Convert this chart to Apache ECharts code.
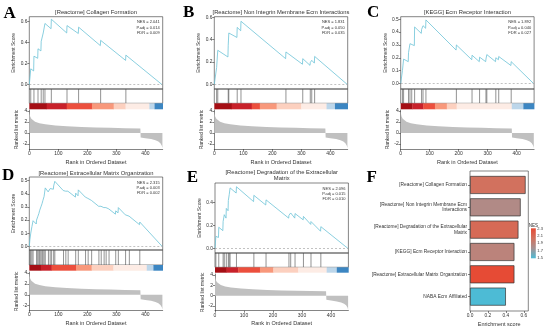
<!DOCTYPE html>
<html><head><meta charset="utf-8">
<script src="https://cdn.jsdelivr.net/npm/echarts@6/dist/echarts.min.js"></script>
<style>html,body{margin:0;padding:0;background:#fff}#c{width:550px;height:329px}</style>
</head><body><div id="c"></div>
<script>
// ---------------- DATA ----------------
const rankMax = 460;
const rankTicks = [0, 100, 200, 300, 400];
const metricTicks = [-2, 0, 2, 4];
const rankedMetric = [[0,3.9],[1,3.5],[3,3.0],[7,2.6],[12,2.3],[20,2.05],[35,1.8],[55,1.6],[90,1.4],[130,1.25],[180,1.12],[230,1.03],[280,0.96],[330,0.9],[383,0.85],[384,-0.8],[400,-0.95],[420,-1.1],[435,-1.3],[445,-1.55],[452,-1.85],[457,-2.3],[459,-2.7]];

const titleA = '[Reactome] Collagen Formation';
const statsA = ['NES = 2.041', 'P.adj = 0.014', 'FDR = 0.009'];
const esTicksA = [0, 0.2, 0.4, 0.6];
const esA = [[0,0],[5,0.15],[15,0.13],[16,0.27],[29,0.25],[30,0.34],[40,0.32],[41,0.41],[47,0.40],[48,0.49],[53,0.48],[54,0.58],[75,0.53],[76,0.62],[129,0.49],[130,0.56],[169,0.485],[170,0.545],[245,0.37],[246,0.42],[332,0.23],[333,0.28],[458,0]];
const hitsA = [5,16,30,41,48,54,76,130,170,246,333];
const colorBreaksA = [0,60,129,216,291,332,414,432,460];

const titleB = '[Reactome] Non Integrin Membrane Ecm Interactions';
const statsB = ['NES = 1.831', 'P.adj = 0.050', 'FDR = 0.035'];
const esTicksB = [0, 0.2, 0.4, 0.6];
const esB = [[0,0],[8,0.15],[11,0.14],[12,0.305],[47,0.245],[48,0.35],[49,0.345],[50,0.46],[78,0.42],[79,0.51],[91,0.48],[92,0.565],[246,0.23],[247,0.29],[304,0.18],[305,0.23],[330,0.17],[331,0.195],[335,0.185],[336,0.215],[345,0.19],[346,0.25],[458,0]];
const hitsB = [8,12,48,50,79,92,247,305,331,336,346];
const colorBreaksB = [0,60,129,157,215,300,387,416,460];

const titleC = '[KEGG] Ecm Receptor Interaction';
const statsC = ['NES = 1.892', 'P.adj = 0.040', 'FDR = 0.027'];
const esTicksC = [0, 0.1, 0.2, 0.3, 0.4, 0.5];
const esC = [[0,0],[6,0.1],[9,0.095],[10,0.19],[26,0.17],[27,0.24],[31,0.235],[32,0.31],[37,0.3],[38,0.32],[47,0.295],[48,0.44],[71,0.39],[72,0.42],[76,0.41],[77,0.45],[86,0.43],[87,0.495],[191,0.26],[192,0.30],[245,0.185],[246,0.22],[271,0.17],[272,0.205],[293,0.17],[294,0.19],[296,0.185],[297,0.225],[327,0.17],[328,0.2],[337,0.185],[338,0.21],[380,0.14],[381,0.17],[458,0]];
const hitsC = [6,10,27,32,38,48,72,77,87,192,246,272,294,297,328,338,381];
const colorBreaksC = [0,40,78,118,159,193,383,423,460];

const titleD = '[Reactome] Extracellular Matrix Organization';
const statsD = ['NES = 2.315', 'P.adj = 0.003', 'FDR = 0.002'];
const esTicksD = [0, 0.1, 0.2, 0.3, 0.4, 0.5];
const esD = [[0,0],[2,0.05],[4,0.045],[5,0.1],[8,0.095],[9,0.15],[12,0.145],[13,0.195],[24,0.17],[25,0.2],[28,0.195],[29,0.225],[32,0.22],[33,0.25],[35,0.245],[36,0.275],[39,0.27],[40,0.3],[43,0.295],[44,0.325],[46,0.32],[47,0.35],[50,0.345],[51,0.38],[54,0.375],[55,0.445],[65,0.415],[66,0.43],[71,0.415],[72,0.44],[76,0.43],[77,0.45],[83,0.435],[84,0.46],[87,0.455],[88,0.495],[117,0.425],[118,0.44],[125,0.42],[126,0.435],[133,0.42],[134,0.43],[159,0.375],[160,0.405],[168,0.385],[169,0.43],[193,0.375],[194,0.385],[202,0.365],[203,0.375],[214,0.35],[215,0.36],[239,0.305],[240,0.32],[247,0.305],[248,0.315],[257,0.295],[258,0.31],[264,0.295],[265,0.305],[274,0.285],[275,0.295],[297,0.245],[298,0.27],[306,0.255],[307,0.295],[331,0.24],[332,0.255],[344,0.23],[345,0.245],[380,0.165],[381,0.185],[458,0]];
const hitsD = [2,5,9,13,25,29,33,36,40,44,47,51,55,66,72,77,84,88,118,126,134,160,169,194,203,215,240,248,258,265,275,298,307,332,345,381];
const colorBreaksD = [0,40,77,161,215,290,405,428,460];

const titleE = '[Reactome] Degradation of the Extracellular\nMatrix';
const statsE = ['NES = 2.096', 'P.adj = 0.015', 'FDR = 0.010'];
const esTicksE = [0, 0.2, 0.4];
const esE = [[0,0],[3,0.105],[12,0.095],[13,0.185],[27,0.155],[28,0.235],[31,0.225],[32,0.295],[38,0.265],[39,0.35],[45,0.33],[46,0.42],[48,0.41],[49,0.47],[51,0.46],[52,0.53],[73,0.485],[74,0.54],[133,0.41],[134,0.465],[175,0.38],[176,0.425],[254,0.265],[255,0.29],[260,0.28],[261,0.31],[275,0.265],[276,0.305],[304,0.25],[305,0.28],[330,0.21],[331,0.235],[364,0.15],[365,0.19],[458,0]];
const hitsE = [3,13,28,32,39,46,49,52,74,134,176,255,261,276,305,331,365];
const colorBreaksE = [0,40,80,155,201,287,385,420,460];

const fCategories = ['[Reactome] Collagen Formation','[Reactome] Non Integrin Membrane Ecm\nInteractions','[Reactome] Degradation of the Extracellular\nMatrix','[KEGG] Ecm Receptor Interaction','[Reactome] Extracellular Matrix Organization','NABA Ecm Affiliated'];
const fES = [0.62, 0.565, 0.54, 0.495, 0.495, 0.40];
const fNES = [2.041, 1.831, 2.096, 1.892, 2.315, 1.48];
const fTicks = [0, 0.2, 0.4, 0.6];
const nesTicks = [1.5, 1.7, 1.9, 2.1, 2.3];
const nesRange = [1.48, 2.315];

// ---------------- STYLE / LAYOUT ----------------
const FONT = 'Liberation Sans';
const INK = '#333';
const ES_COLOR = '#6cc3d7';
const CB_PALETTE = ['#a50f15','#c8212a','#ec4f3d','#f8987b','#fcd0bf','#fdece5','#bcd6ea','#3c86c2'];
const NES_COLORS = ['#4dbbd5','#a69394','#d2725f','#e64b35'];
const PW = 133.4;
const panels = [
  {k:'A', title:titleA, stats:statsA, esTicks:esTicksA, es:esA, hits:hitsA, cb:colorBreaksA,
   L:{left:29.3, esTop:16.7, esBottom:89, cbTop:103.3, cbBottom:109.3, rkTop:110, rkBottom:149, esMin:-0.041, esMax:0.644, letter:[3.5,13.7], titleY:12.5}},
  {k:'B', title:titleB, stats:statsB, esTicks:esTicksB, es:esB, hits:hitsB, cb:colorBreaksB,
   L:{left:214.3, esTop:16.7, esBottom:89, cbTop:103.3, cbBottom:109.3, rkTop:110, rkBottom:149, esMin:-0.042, esMax:0.606, letter:[183,12.5], titleY:12.5}},
  {k:'C', title:titleC, stats:statsC, esTicks:esTicksC, es:esC, hits:hitsC, cb:colorBreaksC,
   L:{left:400.7, esTop:16.7, esBottom:89, cbTop:103.3, cbBottom:109.3, rkTop:110, rkBottom:149, esMin:-0.043, esMax:0.52, letter:[367,12.8], titleY:12.5}},
  {k:'D', title:titleD, stats:statsD, esTicks:esTicksD, es:esD, hits:hitsD, cb:colorBreaksD,
   L:{left:29.3, esTop:177, esBottom:250, cbTop:265, cbBottom:270.7, rkTop:272, rkBottom:310.6, esMin:-0.028, esMax:0.528, letter:[2,176], titleY:173.7}},
  {k:'E', title:titleE, stats:statsE, esTicks:esTicksE, es:esE, hits:hitsE, cb:colorBreaksE,
   L:{left:215, esTop:183, esBottom:253, cbTop:267.3, cbBottom:272.7, rkTop:274, rkBottom:310.7, esMin:-0.041, esMax:0.573, letter:[186.7,177.5], titleY:175.8}}
];

const grids = [], xAxes = [], yAxes = [], series = [], gfx = [];
function addGrid(g) { grids.push(Object.assign({outerBoundsMode:'none', containLabel:false}, g)); return grids.length - 1; }
function addX(a) { xAxes.push(a); return xAxes.length - 1; }
function addY(a) { yAxes.push(a); return yAxes.length - 1; }
const lineSt = {color: INK, width: 0.6};
const fmt1 = v => Number(v).toFixed(1);

panels.forEach(p => {
  const L = p.L;
  // ES panel
  const gEs = addGrid({left:L.left, top:L.esTop, width:PW, height:L.esBottom - L.esTop, show:true, borderColor:INK, borderWidth:0.6});
  const xEs = addX({gridIndex:gEs, type:'value', min:0, max:rankMax, show:false});
  const yEs = addY({gridIndex:gEs, type:'value', min:L.esMin, max:L.esMax,
    axisLine:{show:false}, splitLine:{show:false},
    axisTick:{show:true, length:2, lineStyle:lineSt, customValues:p.esTicks},
    axisLabel:{fontSize:4.8, color:INK, margin:2, customValues:p.esTicks, formatter:fmt1},
    name:'Enrichment Score', nameLocation:'middle', nameGap:13, nameTextStyle:{fontSize:5, color:INK}});
  series.push({type:'line', xAxisIndex:xEs, yAxisIndex:yEs, data:p.es, symbol:'none', silent:true,
    lineStyle:{color:ES_COLOR, width:0.8},
    markLine:{silent:true, symbol:'none', label:{show:false}, animation:false,
      lineStyle:{color:'#999', type:[2,2], width:0.6}, data:[{yAxis:0}]}});
  // hits panel
  const gHit = addGrid({left:L.left, top:L.esBottom, width:PW, height:L.cbTop - L.esBottom, show:true, borderColor:INK, borderWidth:0.6});
  const xHit = addX({gridIndex:gHit, type:'value', min:0, max:rankMax, show:false});
  const yHit = addY({gridIndex:gHit, type:'value', min:0, max:1, show:false});
  series.push({type:'custom', xAxisIndex:xHit, yAxisIndex:yHit, silent:true, encode:{x:0, y:[1,2]},
    data:p.hits.map(r => [r, 0, 1]),
    renderItem:(params, api) => {
      const a = api.coord([api.value(0), api.value(1)]), b = api.coord([api.value(0), api.value(2)]);
      return {type:'line', shape:{x1:a[0], y1:a[1], x2:b[0], y2:b[1]}, style:{stroke:'#4a4a4a', lineWidth:0.6}};
    }});
  // colour bar
  const gCb = addGrid({left:L.left, top:L.cbTop, width:PW, height:L.cbBottom - L.cbTop});
  const xCb = addX({gridIndex:gCb, type:'value', min:0, max:rankMax, show:false});
  const yCb = addY({gridIndex:gCb, type:'value', min:0, max:1, show:false});
  const segs = [];
  for (let i = 0; i < p.cb.length - 1; i++) segs.push([p.cb[i], p.cb[i + 1], 0, 1, i]);
  series.push({type:'custom', xAxisIndex:xCb, yAxisIndex:yCb, silent:true, encode:{x:[0,1], y:[2,3]},
    data:segs,
    renderItem:(params, api) => {
      const a = api.coord([api.value(0), api.value(3)]), b = api.coord([api.value(1), api.value(2)]);
      return {type:'rect', shape:{x:a[0], y:a[1], width:b[0] - a[0] + 0.3, height:b[1] - a[1]}, style:{fill:CB_PALETTE[api.value(4)]}};
    }});
  // ranked list metric
  const gRk = addGrid({left:L.left, top:L.rkTop, width:PW, height:L.rkBottom - L.rkTop});
  const xRk = addX({gridIndex:gRk, type:'value', min:0, max:rankMax,
    axisLine:{show:true, onZero:false, lineStyle:lineSt}, splitLine:{show:false},
    axisTick:{show:true, length:2, lineStyle:lineSt, customValues:rankTicks},
    axisLabel:{fontSize:5, color:INK, margin:2, customValues:rankTicks},
    name:'Rank in Ordered Dataset', nameLocation:'middle', nameGap:10, nameTextStyle:{fontSize:5.5, color:INK}});
  const yRk = addY({gridIndex:gRk, type:'value', min:-2.9, max:4.2,
    axisLine:{show:true, onZero:false, lineStyle:lineSt}, splitLine:{show:false},
    axisTick:{show:true, length:2, lineStyle:lineSt, customValues:metricTicks},
    axisLabel:{fontSize:5, color:INK, margin:2, customValues:metricTicks},
    name:'Ranked list metric', nameLocation:'middle', nameGap:10, nameTextStyle:{fontSize:5, color:INK}});
  series.push({type:'line', xAxisIndex:xRk, yAxisIndex:yRk, data:rankedMetric, symbol:'none', silent:true,
    lineStyle:{width:0, opacity:0}, areaStyle:{color:'#c0c0c0', opacity:1, origin:0}});
  // texts
  gfx.push({type:'text', x:L.letter[0], y:L.letter[1], silent:true,
    style:{text:p.k, fontFamily:'Liberation Serif', fontWeight:'bold', fontSize:17, fill:'#000', align:'left', verticalAlign:'middle'}});
  gfx.push({type:'text', x:L.left + PW / 2, y:L.titleY, silent:true,
    style:{text:p.title, fontFamily:FONT, fontSize:5.8, lineHeight:6, fill:INK, align:'center', verticalAlign:'middle'}});
  gfx.push({type:'text', x:L.left + PW - 3, y:L.esTop + 2.8, silent:true,
    style:{text:p.stats.join('\n'), fontFamily:FONT, fontSize:4, lineHeight:5.3, fill:INK, align:'right', verticalAlign:'top'}});
});

// ---------------- PANEL F ----------------
const FL = {left:470, top:171, width:58.3, height:140, barTop:173.8, barHeight:134};
const gFf = addGrid({left:FL.left, top:FL.top, width:FL.width, height:FL.height, show:true, borderColor:INK, borderWidth:0.6});
addX({gridIndex:gFf, type:'value', min:0, max:0.65,
  axisLine:{show:false}, splitLine:{show:false},
  axisTick:{show:true, length:2, lineStyle:lineSt, customValues:fTicks},
  axisLabel:{fontSize:4.8, color:INK, margin:2, customValues:fTicks, formatter:fmt1},
  name:'Enrichment score', nameLocation:'middle', nameGap:10, nameTextStyle:{fontSize:5.5, color:INK}});
addY({gridIndex:gFf, type:'value', min:0, max:1, show:false});
const gFb = addGrid({left:FL.left, top:FL.barTop, width:FL.width, height:FL.barHeight});
const xFb = addX({gridIndex:gFb, type:'value', min:0, max:0.65, show:false});
const yFb = addY({gridIndex:gFb, type:'category', data:fCategories, inverse:true,
  axisLine:{show:false}, axisTick:{show:true, length:2, alignWithLabel:true, lineStyle:lineSt},
  axisLabel:{fontSize:4.8, lineHeight:5.4, color:INK, margin:3, align:'right'}});
series.push({type:'bar', xAxisIndex:xFb, yAxisIndex:yFb, barWidth:18, silent:true, encode:{x:0, y:1},
  data:fES.map((v, i) => [v, i, fNES[i]]),
  itemStyle:{borderColor:'#333', borderWidth:0.7}});
const barSeriesIndex = series.length - 1;
// NES legend
const gL = addGrid({left:531, top:228.3, width:4.8, height:30});
const xL = addX({gridIndex:gL, type:'value', min:0, max:1, show:false});
const yL = addY({gridIndex:gL, type:'value', min:nesRange[0], max:nesRange[1], position:'right',
  axisLine:{show:false}, splitLine:{show:false},
  axisTick:{show:true, inside:true, length:1, lineStyle:{color:'#fff', width:0.5}, customValues:nesTicks},
  axisLabel:{fontSize:4, color:INK, margin:1.5, customValues:nesTicks, formatter:fmt1}});
series.push({type:'custom', xAxisIndex:xL, yAxisIndex:yL, silent:true, encode:{x:[0,1], y:[2,3]},
  data:[[0, 1, nesRange[0], nesRange[1]]],
  renderItem:(params, api) => {
    const a = api.coord([api.value(0), api.value(3)]), b = api.coord([api.value(1), api.value(2)]);
    return {type:'rect', z2:-1, shape:{x:a[0], y:a[1], width:b[0] - a[0], height:b[1] - a[1]},
      style:{fill:new echarts.graphic.LinearGradient(0, 0, 0, 1, [
        {offset:0, color:NES_COLORS[3]}, {offset:1/3, color:NES_COLORS[2]},
        {offset:2/3, color:NES_COLORS[1]}, {offset:1, color:NES_COLORS[0]}])}};
  }});
gfx.push({type:'text', x:533.4, y:225.8, silent:true,
  style:{text:'NES', fontFamily:FONT, fontSize:4.5, fill:INK, align:'center', verticalAlign:'middle'}});
gfx.push({type:'text', x:366.5, y:178, silent:true,
  style:{text:'F', fontFamily:'Liberation Serif', fontWeight:'bold', fontSize:17, fill:'#000', align:'left', verticalAlign:'middle'}});

const chart = echarts.init(document.getElementById('c'), null, {renderer:'canvas'});
chart.setOption({
  animation:false,
  backgroundColor:'#fff',
  textStyle:{fontFamily:FONT},
  grid:grids, xAxis:xAxes, yAxis:yAxes, series:series,
  visualMap:[{type:'continuous', show:false, seriesIndex:barSeriesIndex, dimension:2,
    min:nesRange[0], max:nesRange[1], inRange:{color:NES_COLORS}}],
  graphic:{elements:gfx}
});
</script></body></html>
